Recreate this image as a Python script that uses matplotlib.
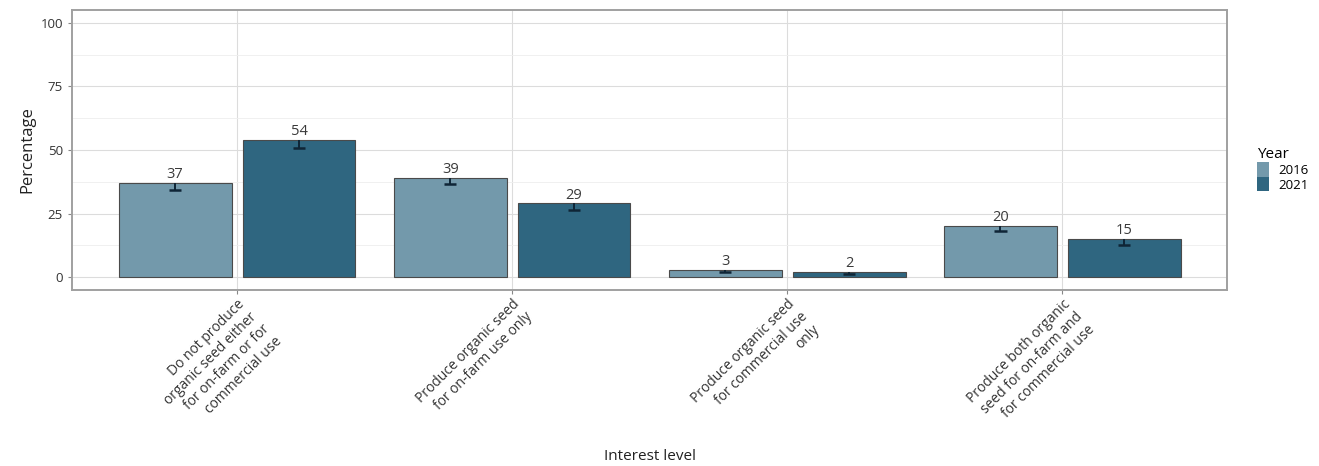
import numpy as np
import matplotlib.pyplot as plt
from matplotlib.patches import Patch
from matplotlib.ticker import MultipleLocator

plt.rcParams['font.family'] = ['Open Sans', 'DejaVu Sans']

# data
categories = [
    "Do not produce\norganic seed either\nfor on-farm or for\ncommercial use",
    "Produce organic seed\nfor on-farm use only",
    "Produce organic seed\nfor commercial use\nonly",
    "Produce both organic\nseed for on-farm and\nfor commercial use",
]
years = ["2016", "2021"]
pct_2016 = [37, 39, 3, 20]
pct_2021 = [54, 29, 2, 15]
se_2016 = [2.7, 2.2, 1.0, 2.0]
se_2021 = [3.3, 2.8, 0.8, 2.5]
colors = {"2016": "#7399ab", "2021": "#2f6680"}

fig = plt.figure(figsize=(13.19, 4.66), dpi=100)
ax = fig.add_axes([0.0546, 0.378, 0.876, 0.6005])

x = np.arange(1, len(categories) + 1)
offset = 0.225
width = 0.41
cap = 0.022
series = [(pct_2016, se_2016, "2016", -offset), (pct_2021, se_2021, "2021", offset)]

for vals, se, yr, off in series:
    xs = x + off
    vals = np.array(vals)
    lows = vals - np.array(se)
    ax.bar(xs, vals, width=width, color=colors[yr], edgecolor="#4a4a4a",
           linewidth=0.8, zorder=2)
    # only the lower half of the error bar is visible under the labels
    ax.vlines(xs, lows, vals, color="#0f2536", linewidth=1.4, zorder=3)
    ax.hlines(lows, xs - cap, xs + cap, color="#0f2536", linewidth=1.8, zorder=3)
    for xi, v in zip(xs, vals):
        ax.text(xi, v + 0.3, f"{v}", ha="center", va="bottom", fontsize=10.5,
                color="#3a3a3a", zorder=4)

ax.set_xlim(0.4, 4.6)
ax.set_ylim(-5, 105)
ax.yaxis.set_major_locator(MultipleLocator(25))
ax.yaxis.set_minor_locator(MultipleLocator(12.5))
ax.set_xticks(x)
ax.set_xticklabels(categories, rotation=45, ha="right", va="top",
                   rotation_mode="anchor", multialignment="right",
                   fontsize=10, linespacing=1.25, color="#333333")
ax.tick_params(axis="y", labelsize=9.5, labelcolor="#333333", color="#888888", length=3)
ax.tick_params(axis="x", color="#888888", length=3, pad=2)
ax.tick_params(which="minor", length=0)

ax.grid(which="major", color="#dcdcdc", linewidth=0.8, zorder=0)
ax.grid(which="minor", axis="y", color="#eeeeee", linewidth=0.6, zorder=0)
ax.set_axisbelow(True)
for s in ax.spines.values():
    s.set_color("#a0a0a0")
    s.set_linewidth(1.4)

ax.set_ylabel("Percentage", fontsize=12, color="#222222")
ax.set_xlabel("Interest level", fontsize=11, color="#222222")
ax.xaxis.set_label_coords(0.5, -0.57)

handles = [Patch(facecolor=colors[y], edgecolor="none") for y in years]
leg = fig.legend(handles, years, title="Year", loc="upper left",
                 bbox_to_anchor=(0.949, 0.695), frameon=False, fontsize=9.5,
                 title_fontsize=11, handlelength=0.9, handleheight=1.3,
                 handletextpad=0.7, labelspacing=0.0, borderaxespad=0)
leg._legend_box.align = "left"

fig.savefig("out.png", dpi=100)
